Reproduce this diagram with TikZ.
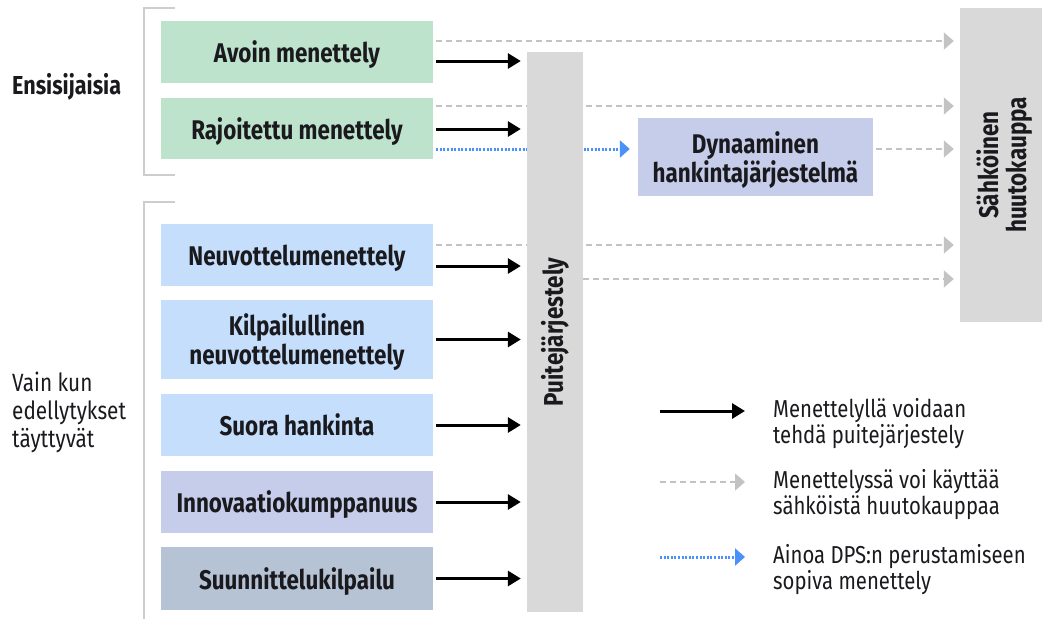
\documentclass[tikz,border=0pt]{standalone}
\usepackage{fontspec}
\setmainfont[FakeStretch=0.83]{Fira Sans}
\usetikzlibrary{arrows.meta,calc}
\pgfdeclarelayer{bg}
\pgfsetlayers{bg,main}
\definecolor{txt}{RGB}{26,26,30}
\definecolor{grn}{RGB}{190,227,204}
\definecolor{lblu}{RGB}{197,222,252}
\definecolor{lav}{RGB}{197,205,234}
\definecolor{slate}{RGB}{182,195,212}
\definecolor{barg}{RGB}{217,217,217}
\definecolor{dashg}{RGB}{195,195,195}
\definecolor{dotb}{RGB}{75,145,250}
\definecolor{brk}{RGB}{205,205,205}
\tikzset{
  box/.style={rectangle, inner sep=0pt, minimum width=272pt, text=txt, align=center, text depth=0pt,
    font=\fontsize{27}{29}\selectfont\bfseries},
  bar/.style={rectangle, inner sep=0pt, fill=barg, text=txt, align=center,
    font=\fontsize{27}{29}\selectfont\bfseries},
  lbl/.style={inner sep=0pt, text=txt, align=left, anchor=west},
  blk/.style={line width=3pt, black, -{Triangle[length=13pt,width=15pt]}, shorten <=3pt, shorten >=6pt},
  gry/.style={line width=1.6pt, dashg, dash pattern=on 6pt off 4pt, -{Triangle[length=10pt,width=17pt]}, shorten <=3pt, shorten >=6pt},
  blu/.style={line width=3pt, dotb, dash pattern=on 2pt off 1.6pt, -{Triangle[length=10pt,width=17pt]}, shorten <=3pt, shorten >=8pt},
  brack/.style={line width=1.5pt, brk},
}
\begin{document}
\begin{tikzpicture}[x=1pt,y=-1pt]
\useasboundingbox (0,0) rectangle (1042,619);
% bracket lines
\coordinate (b1t) at (175,8);
\coordinate (b1b) at (175,175);
\coordinate (b2t) at (175,202);
\coordinate (b2b) at (144,619);
\draw[brack] (b1t) -- (144,8) -- (144,175) -- (b1b);
\draw[brack] (b2t) -- (144,202) -- (b2b);
% left labels
\node[lbl, font=\fontsize{26}{28}\selectfont\bfseries] (ens) at (12,87) {Ensisijaisia};
\node[lbl, font=\fontsize{25}{28}\selectfont] (vain) at (12,412) {Vain kun\\edellytykset\\täyttyvät};
% procedure boxes
\node[box, fill=grn, minimum height=62pt] (avoin) at (297,52) {Avoin menettely};
\node[box, fill=grn, minimum height=61pt] (rajo) at (297,128.5) {Rajoitettu menettely};
\node[box, fill=lblu, minimum height=62pt] (neuvo) at (297,255) {Neuvottelumenettely};
\node[box, fill=lblu, minimum height=79pt] (kilpa) at (297,339.5) {Kilpailullinen\\neuvottelumenettely};
\node[box, fill=lblu, minimum height=62pt] (suora) at (297,425) {Suora hankinta};
\node[box, fill=lav, minimum height=62pt] (innov) at (297,502) {Innovaatiokumppanuus};
\node[box, fill=slate, minimum height=63pt] (suunn) at (297,578.5) {Suunnittelukilpailu};
% bars
\node[bar, minimum width=56pt, minimum height=560pt] (puite) at (555,332) {\rotatebox{90}{Puitejärjestely}};
\node[bar, minimum width=82pt, minimum height=314pt] (sahko) at (1001,165) {\hspace*{9pt}\rotatebox{90}{\begin{tabular}{@{}c@{}}Sähköinen\\[-1pt]huutokauppa\end{tabular}}};
\node[box, fill=lav, minimum width=235pt, minimum height=78pt] (dyn) at (755.5,157) {Dynaaminen\\hankintajärjestelmä};
% anchor coordinates for connectors
\coordinate (a1) at ([yshift=-9pt]avoin.east);
\coordinate (a2) at ([yshift=11pt]avoin.east);
\coordinate (r1) at ([yshift=-0.5pt]rajo.east);
\coordinate (r2) at ([yshift=22.5pt]rajo.east);
\coordinate (r3) at ([yshift=-20.5pt]rajo.east);
\coordinate (n1) at ([yshift=-11pt]neuvo.east);
\coordinate (n2) at ([yshift=10pt]neuvo.east);
\coordinate (p2) at (puite.east |- 0,279);
\coordinate (d1) at ([yshift=8pt]dyn.east);
% long connectors behind the bars
\begin{pgfonlayer}{bg}
\draw[gry] (a2) -- (a2 -| sahko.west);
\draw[gry] (r2) -- (r2 -| sahko.west);
\draw[gry] (n2) -- (n2 -| sahko.west);
\draw[blu] (r3) -- (r3 -| dyn.west);
\end{pgfonlayer}
\draw[gry] (d1) -- (d1 -| sahko.west);
\draw[gry, shorten <=0pt] (p2) -- (p2 -| sahko.west);
% black arrows to framework
\draw[blk] (a1) -- (a1 -| puite.west);
\draw[blk] (r1) -- (r1 -| puite.west);
\draw[blk] (n1) -- (n1 -| puite.west);
\draw[blk] (kilpa.east) -- (kilpa.east -| puite.west);
\draw[blk] (suora.east) -- (suora.east -| puite.west);
\draw[blk] (innov.east) -- (innov.east -| puite.west);
\draw[blk] (suunn.east) -- (suunn.east -| puite.west);
% legend
\coordinate (l1s) at (660,411);
\coordinate (l1e) at (751,411);
\coordinate (l2s) at (660,482);
\coordinate (l2e) at (751,482);
\coordinate (l3s) at (660,557);
\coordinate (l3e) at (753,557);
\draw[blk, shorten <=0pt] (l1s) -- (l1e);
\draw[gry, shorten <=0pt] (l2s) -- (l2e);
\draw[blu, shorten <=0pt] (l3s) -- (l3e);
\node[lbl, font=\fontsize{24.5}{26}\selectfont] (t1) at (773,424) {Menettelyllä voidaan\\tehdä puitejärjestely};
\node[lbl, font=\fontsize{24.5}{26}\selectfont] (t2) at (773,495) {Menettelyssä voi käyttää\\sähköistä huutokauppaa};
\node[lbl, font=\fontsize{24.5}{26}\selectfont] (t3) at (773,570) {Ainoa DPS:n perustamiseen\\sopiva menettely};
\end{tikzpicture}
\end{document}
